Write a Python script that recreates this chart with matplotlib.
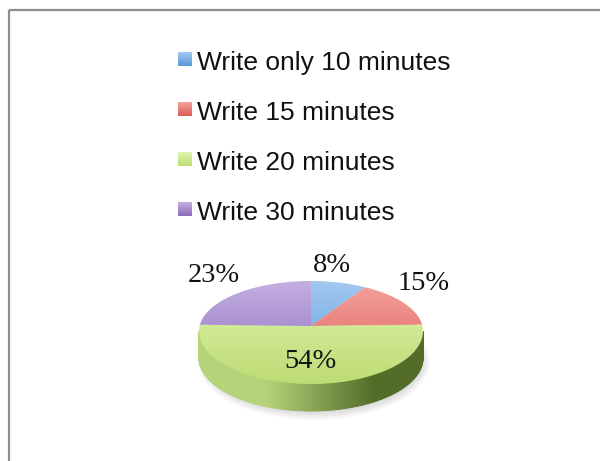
import numpy as np
import matplotlib.pyplot as plt
from matplotlib.colors import LinearSegmentedColormap, to_rgb
from matplotlib.patches import Polygon, Rectangle, Ellipse

labels = ["Write only 10 minutes", "Write 15 minutes", "Write 20 minutes", "Write 30 minutes"]
shares = [8, 15, 54, 23]

top_light = ["#a3c9f2", "#f4a29d", "#e0f5ad", "#c4aee2"]
top_dark = ["#5a97d5", "#de5d57", "#bedc76", "#8a6cb9"]
side_light = ["#7aa6d8", "#d97a74", "#b5d47a", "#9d86c6"]
side_dark = ["#3a6496", "#8e3532", "#536d28", "#5a4383"]

# pie geometry in pixel units
cx, cy = 311, 331
rx, ry_back, ry_front = 112, 50, 53
depth = 27
apex = (311, 326)

lbl_xy = [(332, 272), (424, 290), (310, 368), (214, 282)]


def rim(a):
    a = np.radians(a)
    s = np.sin(a)
    ry = np.where(s >= 0, ry_back, ry_front)
    return cx + rx * np.cos(a), cy - ry * s


def grad_fill(ax, patch, c_top, c_bot, box):
    x0, x1, y0, y1 = box
    ct, cb = np.array(to_rgb(c_top)), np.array(to_rgb(c_bot))
    t = np.linspace(0, 1, 64)[:, None, None]
    img = ct * (1 - t) + cb * t
    ax.add_patch(patch)
    im = ax.imshow(img, extent=[x0, x1, y1, y0], origin="upper",
                   aspect="auto", zorder=patch.get_zorder(), interpolation="bilinear")
    im.set_clip_path(patch)


fig = plt.figure(figsize=(6, 4.61), dpi=100)
ax = fig.add_axes([0, 0, 1, 1])

# chart frame
ax.add_patch(Rectangle((8.5, 10.5), 700, 700, fill=False, ec="#8e8e8e", lw=1.6, zorder=1))

# legend
for i, lab in enumerate(labels):
    y = 52 + 50 * i
    sq = Rectangle((178, y), 14, 14, fc="none", ec="none", zorder=3)
    grad_fill(ax, sq, top_light[i], top_dark[i], (178, 192, y, y + 14))
    ax.text(197, 70 + 50 * i, lab, fontsize=19, family="Liberation Sans",
            va="baseline", ha="left", color="#111111", zorder=4)

# soft shadow below the pie
for k in range(6):
    ax.add_patch(Ellipse((cx + 3, cy + depth + 4), 2 * rx + 8 - 3 * k,
                         2 * ry_front + 10 - 3 * k, fc="#000000", alpha=0.025,
                         ec="none", zorder=2))

# angles: start at 12 o'clock, clockwise
bounds = 90 - 360 * np.concatenate([[0], np.cumsum(shares)]) / sum(shares)

# side wall
for i in range(len(shares)):
    cmap = LinearSegmentedColormap.from_list(
        "side%d" % i,
        [(0, side_light[i]), (0.3, side_light[i]), (0.78, side_dark[i]), (1, side_dark[i])])
    ang = np.linspace(bounds[i + 1], bounds[i], 400)
    xs, ys = rim(ang)
    front = np.sin(np.radians(ang)) < 0
    for j in range(len(ang) - 1):
        if not (front[j] and front[j + 1]):
            continue
        frac = ((xs[j] + xs[j + 1]) / 2 - (cx - rx)) / (2 * rx)
        quad = [(xs[j], ys[j]), (xs[j + 1], ys[j + 1]),
                (xs[j + 1], ys[j + 1] + depth), (xs[j], ys[j] + depth)]
        ax.add_patch(Polygon(quad, closed=True, fc=cmap(frac), ec=cmap(frac),
                             lw=0.6, zorder=3))

# top face
for i in range(len(shares)):
    ang = np.linspace(bounds[i], bounds[i + 1], 200)
    xs, ys = rim(ang)
    pts = [apex] + list(zip(xs, ys))
    wedge = Polygon(pts, closed=True, fc="none", ec="none", zorder=4)
    grad_fill(ax, wedge, top_light[i], top_dark[i],
              (cx - rx, cx + rx, cy - ry_back, cy + ry_front))

for v, (x, y) in zip(shares, lbl_xy):
    ax.text(x, y, "%d%%" % v, fontsize=20.5, family="Liberation Serif",
            ha="center", va="baseline", color="#111111", zorder=6)

ax.set_xlim(0, 600)
ax.set_ylim(461, 0)
ax.axis("off")
fig.savefig("out.png", dpi=100)
